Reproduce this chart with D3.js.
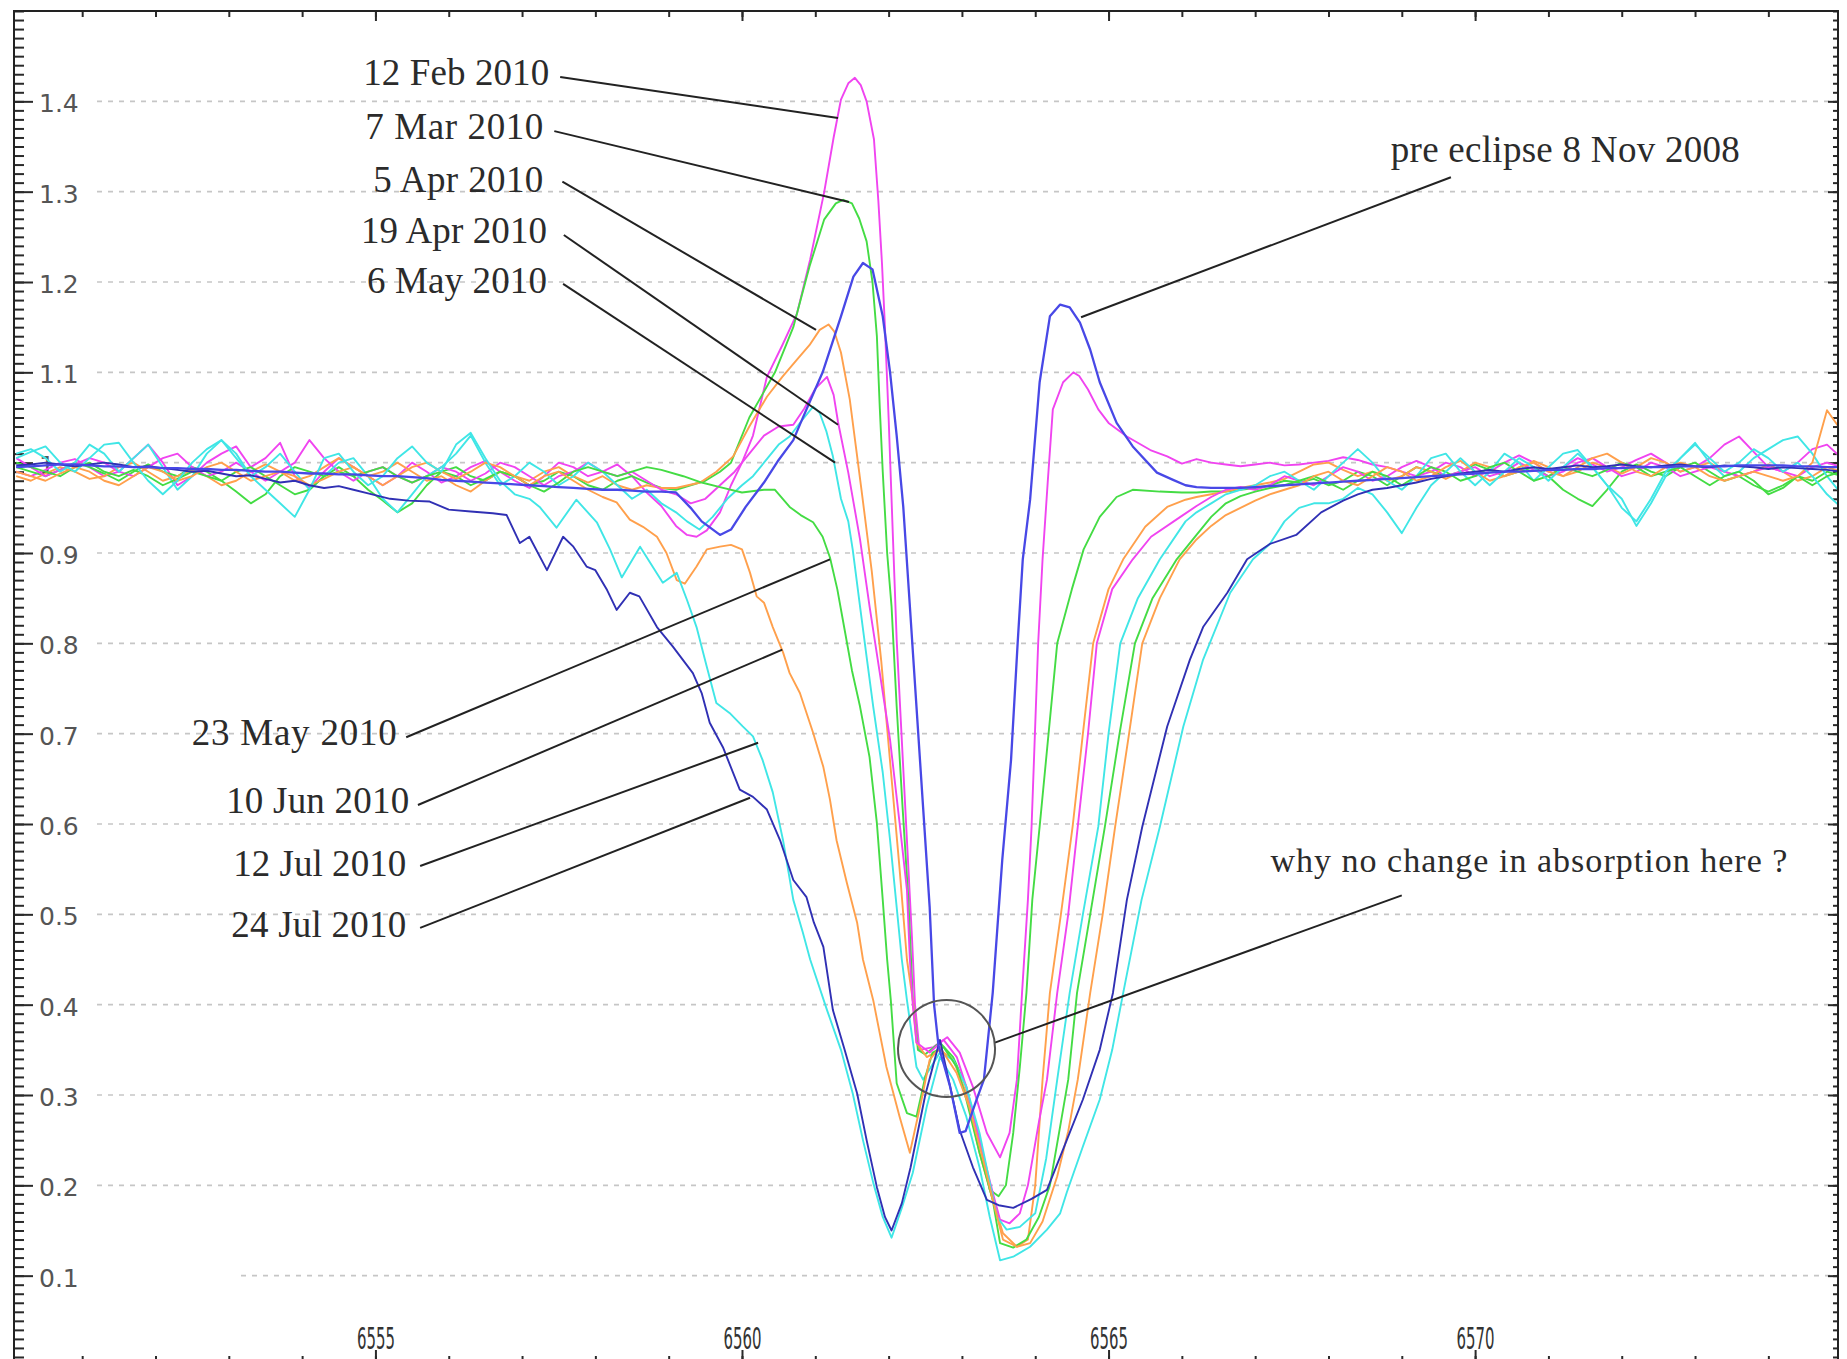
<!DOCTYPE html>
<meta charset="utf-8">
<style>

body { margin: 0; background: #fff; }
svg { display: block; background: #fff; }

.frame { fill: none; stroke: #222; stroke-width: 2; }
.grid { stroke: #c6c6c6; stroke-width: 1.6; stroke-dasharray: 5,6; }
.axis path { display: none; }
.axis line { stroke: #2a2a2a; stroke-width: 2; }
.spec { fill: none; stroke-linejoin: round; }
.note { font-family: "Liberation Serif", "Times New Roman", serif; font-size: 37px; fill: #2b2b2b; }
.note--small { font-size: 34px; }
.leader { stroke: #222; stroke-width: 2; }
.ring { fill: none; stroke: #555; stroke-width: 2; }

</style>
<svg width="1847" height="1359"></svg>
<script src="https://d3js.org/d3.v7.min.js"></script>
<script>

// ---- data -------------------------------------------------------------

// shared wavelength grids for the continuum on both sides of H-alpha
var gridL = [6550.1, 6550.3, 6550.5, 6550.7, 6550.9, 6551.1, 6551.3, 6551.5, 6551.7, 6551.9,
             6552.1, 6552.3, 6552.5, 6552.7, 6552.9, 6553.1, 6553.3, 6553.5, 6553.7, 6553.9,
             6554.1, 6554.3, 6554.5, 6554.7, 6554.9, 6555.1, 6555.3, 6555.5, 6555.7, 6555.9,
             6556.1, 6556.3, 6556.5, 6556.7, 6556.9, 6557.1, 6557.3, 6557.5, 6557.7, 6557.9,
             6558.1, 6558.3, 6558.5, 6558.7, 6558.9];
var gridR = [6566.2, 6566.4, 6566.6, 6566.8, 6567.0, 6567.2, 6567.4, 6567.6, 6567.8, 6568.0,
             6568.2, 6568.4, 6568.6, 6568.8, 6569.0, 6569.2, 6569.4, 6569.6, 6569.8, 6570.0,
             6570.2, 6570.4, 6570.6, 6570.8, 6571.0, 6571.2, 6571.4, 6571.6, 6571.8, 6572.0,
             6572.2, 6572.4, 6572.6, 6572.8, 6573.0, 6573.2, 6573.4, 6573.6, 6573.8, 6574.0,
             6574.2, 6574.4, 6574.6, 6574.8, 6575.0];

// pre eclipse 8 Nov 2008
var preL = [0.995,0.996,0.997,0.998,0.998,0.997,0.996,0.996,0.995,0.995,
            0.994,0.994,0.993,0.993,0.992,0.992,0.991,0.990,0.990,0.989,
            0.988,0.988,0.987,0.987,0.986,0.985,0.985,0.984,0.983,0.981,
            0.980,0.979,0.978,0.977,0.976,0.975,0.974,0.973,0.972,0.971,
            0.970,0.970,0.969,0.968,0.968];
var preCore = [[6559.1,0.967],[6559.3,0.95],[6559.45,0.935],[6559.7,0.92],[6559.85,0.926],[6560.05,0.951],
               [6560.3,0.978],[6560.5,1.003],[6560.7,1.025],[6560.8,1.044],[6561.1,1.10],[6561.35,1.162],
               [6561.52,1.206],[6561.65,1.221],[6561.78,1.214],[6561.92,1.162],[6562.02,1.10],[6562.11,1.03],
               [6562.2,0.951],[6562.29,0.841],[6562.38,0.73],[6562.47,0.619],[6562.56,0.508],[6562.62,0.40],
               [6562.68,0.355],[6562.84,0.309],[6562.97,0.258],[6563.05,0.26],[6563.2,0.295],[6563.3,0.317],
               [6563.42,0.413],[6563.55,0.56],[6563.67,0.671],[6563.76,0.80],[6563.83,0.893],[6563.93,0.959],
               [6564.06,1.089],[6564.2,1.162],[6564.34,1.175],[6564.47,1.172],[6564.61,1.155],[6564.75,1.125],
               [6564.88,1.089],[6565.11,1.044],[6565.33,1.018],[6565.66,0.989],[6565.88,0.981],[6566.05,0.975]];
var preR = [0.973,0.972,0.972,0.972,0.973,0.974,0.975,0.976,0.977,0.978,
            0.979,0.980,0.981,0.982,0.983,0.984,0.985,0.986,0.987,0.988,
            0.989,0.990,0.990,0.991,0.992,0.992,0.993,0.993,0.994,0.994,
            0.995,0.995,0.995,0.996,0.996,0.996,0.996,0.997,0.997,0.997,
            0.997,0.996,0.996,0.995,0.995];

// 12 Feb 2010
var feb12L = [0.99,0.985,0.992,1.0,1.004,0.995,0.985,0.99,1.005,1.02,
              1.0,0.975,0.985,1.0,1.01,1.018,0.995,1.005,1.022,0.985,
              0.972,0.99,1.005,0.995,0.985,0.975,0.985,1.0,0.99,0.978,
              0.985,0.995,1.002,0.99,0.98,0.972,0.985,1.0,0.995,0.985,
              0.99,0.998,0.985,0.967,0.952];
var feb12Core = [[6559.1,0.93],[6559.25,0.92],[6559.38,0.918],[6559.52,0.925],[6559.7,0.945],[6559.85,0.975],
                 [6560.0,1.0],[6560.15,1.03],[6560.34,1.095],[6560.55,1.13],[6560.75,1.165],[6560.93,1.225],
                 [6561.12,1.299],[6561.25,1.36],[6561.35,1.402],[6561.45,1.42],[6561.54,1.426],[6561.62,1.418],
                 [6561.7,1.40],[6561.8,1.358],[6561.86,1.29],[6561.91,1.22],[6561.95,1.15],[6562.0,1.05],
                 [6562.06,0.915],[6562.11,0.804],[6562.18,0.693],[6562.25,0.582],[6562.32,0.472],[6562.36,0.40],
                 [6562.42,0.35],[6562.61,0.353],[6562.8,0.364],[6562.97,0.347],[6563.15,0.309],[6563.34,0.258],
                 [6563.52,0.231],[6563.65,0.258],[6563.75,0.317],[6563.82,0.413],[6563.9,0.516],[6563.95,0.597],
                 [6564.04,0.80],[6564.1,0.893],[6564.17,0.978],[6564.24,1.059],[6564.38,1.089],[6564.52,1.10],
                 [6564.6,1.096],[6564.72,1.081],[6564.86,1.059],[6565.0,1.044],[6565.25,1.029],[6565.57,1.014],
                 [6565.8,1.007],[6566.0,0.999]];
var feb12R = [1.004,1.0,0.998,0.996,0.998,1.0,0.997,0.998,1.0,1.002,
              1.006,1.003,0.998,0.995,0.99,0.985,0.99,1.0,0.995,0.985,
              0.99,1.0,1.008,1.0,0.99,0.995,1.005,0.998,0.99,0.995,
              1.003,1.01,1.0,0.99,0.995,1.005,1.02,1.029,1.012,0.995,
              0.99,1.0,1.015,1.02,1.005];

// 7 Mar 2010
var mar7L = [0.995,0.99,0.985,0.992,1.0,0.995,0.988,0.98,0.99,0.998,
             0.99,0.985,0.995,0.99,0.98,0.968,0.955,0.965,0.985,0.995,
             0.99,0.985,0.995,0.985,0.97,0.958,0.945,0.955,0.975,0.99,
             0.995,0.985,0.98,0.99,0.985,0.975,0.98,0.99,0.985,0.975,
             0.97,0.98,0.985,0.978,0.972];
var mar7Core = [[6559.1,0.97],[6559.3,0.975],[6559.5,0.98],[6559.7,0.99],[6559.85,1.0],[6560.1,1.05],
                [6560.45,1.10],[6560.7,1.15],[6560.92,1.217],[6561.12,1.269],[6561.28,1.287],[6561.38,1.291],
                [6561.5,1.287],[6561.6,1.27],[6561.7,1.245],[6561.78,1.2],[6561.84,1.14],[6561.88,1.06],
                [6561.92,0.99],[6561.98,0.9],[6562.04,0.841],[6562.11,0.73],[6562.19,0.619],[6562.27,0.516],
                [6562.33,0.405],[6562.4,0.35],[6562.5,0.345],[6562.7,0.358],[6562.88,0.342],[6563.06,0.309],
                [6563.24,0.25],[6563.38,0.195],[6563.5,0.188],[6563.6,0.2],[6563.7,0.258],[6563.79,0.331],
                [6563.88,0.413],[6563.96,0.516],[6564.06,0.597],[6564.3,0.80],[6564.5,0.86],[6564.66,0.904],
                [6564.88,0.94],[6565.11,0.962],[6565.33,0.97],[6565.7,0.968],[6566.0,0.967]];
var mar7R = [0.967,0.968,0.968,0.97,0.972,0.975,0.98,0.978,0.982,0.975,
             0.98,0.99,0.985,0.975,0.985,0.995,0.99,0.985,0.99,0.998,
             0.992,0.985,0.99,0.995,0.985,0.97,0.96,0.952,0.97,0.99,
             0.998,0.99,0.985,0.995,1.0,0.99,0.98,0.985,0.975,0.968,
             0.975,0.985,0.98,0.99,0.985];

// 5 Apr 2010
var apr5L = [0.985,0.98,0.988,0.995,0.99,0.982,0.985,0.995,1.0,0.99,
             0.98,0.985,0.992,0.985,0.975,0.98,0.99,0.998,0.99,0.98,
             0.985,0.995,1.005,0.995,0.985,0.99,1.0,0.99,0.98,0.985,
             0.975,0.968,0.98,0.99,0.985,0.98,0.99,0.995,0.985,0.978,
             0.985,0.975,0.97,0.975,0.972];
var apr5Core = [[6559.1,0.972],[6559.43,0.978],[6559.65,0.99],[6559.88,1.007],[6560.1,1.04],[6560.34,1.073],
                [6560.55,1.095],[6560.75,1.114],[6560.92,1.13],[6561.06,1.147],[6561.18,1.153],[6561.26,1.145],
                [6561.35,1.122],[6561.47,1.07],[6561.55,1.02],[6561.63,0.97],[6561.77,0.88],[6561.9,0.78],
                [6562.03,0.66],[6562.15,0.55],[6562.25,0.45],[6562.33,0.405],[6562.38,0.358],[6562.52,0.342],
                [6562.7,0.35],[6562.88,0.339],[6563.06,0.302],[6563.24,0.236],[6563.42,0.184],[6563.56,0.147],
                [6563.75,0.132],[6563.9,0.14],[6564.0,0.2],[6564.1,0.317],[6564.2,0.413],[6564.35,0.5],
                [6564.51,0.597],[6564.65,0.7],[6564.79,0.80],[6565.0,0.86],[6565.2,0.893],[6565.5,0.929],
                [6565.8,0.951],[6566.05,0.959]];
var apr5R = [0.962,0.965,0.968,0.972,0.975,0.978,0.982,0.99,0.998,1.0,
             0.992,0.985,0.99,0.98,0.985,0.995,0.99,0.982,0.99,1.0,
             0.995,0.985,0.99,1.002,0.995,0.985,0.99,1.0,0.995,0.988,
             0.995,1.005,1.0,0.99,0.995,1.0,0.99,0.985,0.99,0.998,
             0.99,0.98,0.985,0.995,0.99];

// 19 Apr 2010
var apr19L = [1.005,0.995,0.985,0.992,0.998,1.005,1.0,0.99,0.985,0.995,
              1.005,1.01,0.995,0.985,0.99,1.0,0.99,0.98,0.99,1.0,
              1.025,1.005,0.99,0.98,0.99,0.995,0.985,0.978,0.985,0.995,
              0.99,0.98,0.988,1.0,0.995,0.985,0.975,0.985,0.99,1.0,
              0.99,0.985,0.99,0.98,0.97];
var apr19Core = [[6559.1,0.965],[6559.3,0.955],[6559.5,0.96],[6559.7,0.975],[6559.9,0.99],[6560.1,1.01],
                 [6560.3,1.03],[6560.5,1.04],[6560.7,1.042],[6560.85,1.06],[6561.0,1.082],[6561.16,1.095],
                 [6561.25,1.075],[6561.31,1.045],[6561.45,0.989],[6561.61,0.915],[6561.74,0.841],[6561.88,0.767],
                 [6562.02,0.693],[6562.15,0.601],[6562.25,0.527],[6562.29,0.45],[6562.33,0.40],[6562.38,0.358],
                 [6562.56,0.347],[6562.75,0.361],[6562.93,0.342],[6563.06,0.309],[6563.24,0.25],[6563.42,0.192],
                 [6563.52,0.162],[6563.65,0.158],[6563.79,0.169],[6563.9,0.2],[6564.05,0.27],[6564.16,0.317],
                 [6564.3,0.413],[6564.45,0.5],[6564.58,0.597],[6564.72,0.7],[6564.84,0.80],[6565.05,0.86],
                 [6565.33,0.893],[6565.58,0.918],[6565.98,0.94]];
var apr19R = [0.952,0.962,0.97,0.973,0.97,0.975,0.985,0.98,0.975,0.985,
              0.995,0.99,0.98,0.985,0.995,1.002,0.995,0.985,0.99,0.995,
              0.985,0.99,1.0,0.992,0.985,0.99,1.0,1.005,0.995,0.985,
              0.99,1.0,0.995,0.985,0.99,0.995,0.99,0.985,0.99,0.995,
              0.99,0.985,0.995,1.0,0.995];

// 6 May 2010
var may6L = [1.01,1.015,1.005,0.99,1.0,1.02,1.01,0.99,1.005,1.02,
             0.995,0.97,0.985,1.01,1.025,1.005,0.985,0.995,1.01,0.99,
             0.97,0.985,1.0,1.005,0.985,0.96,0.945,0.965,0.985,0.995,
             1.01,1.03,1.0,0.975,0.985,1.0,0.99,0.975,0.985,1.0,
             0.99,0.975,0.96,0.97,0.955];
var may6Core = [[6559.1,0.945],[6559.25,0.935],[6559.42,0.926],[6559.6,0.94],[6559.8,0.96],[6560.0,0.975],
                [6560.15,0.985],[6560.35,1.005],[6560.5,1.02],[6560.65,1.029],[6560.8,1.045],[6560.97,1.062],
                [6561.06,1.055],[6561.15,1.035],[6561.24,1.007],[6561.35,0.96],[6561.45,0.935],[6561.51,0.904],
                [6561.61,0.841],[6561.7,0.785],[6561.79,0.73],[6561.92,0.657],[6562.02,0.582],[6562.11,0.508],
                [6562.18,0.45],[6562.25,0.405],[6562.38,0.331],[6562.47,0.317],[6562.7,0.347],[6562.88,0.339],
                [6563.06,0.309],[6563.24,0.258],[6563.38,0.203],[6563.48,0.165],[6563.61,0.151],[6563.79,0.154],
                [6564.0,0.169],[6564.15,0.23],[6564.3,0.317],[6564.47,0.413],[6564.65,0.5],[6564.86,0.597],
                [6565.0,0.7],[6565.16,0.80],[6565.4,0.85],[6565.7,0.893],[6566.05,0.935]];
var may6R = [0.945,0.955,0.965,0.97,0.975,0.985,0.99,0.98,0.97,0.985,
             1.0,1.015,1.0,0.98,0.97,0.985,1.005,1.01,0.99,0.975,
             0.99,1.01,1.0,0.98,0.995,1.01,1.014,0.995,0.975,0.96,
             0.93,0.955,0.985,1.005,1.022,1.0,0.985,0.99,1.005,1.015,
             1.025,1.029,1.01,0.985,0.965];

// 23 May 2010
var may23L = [1.0,0.995,0.99,0.985,0.995,1.0,0.99,0.985,0.992,0.985,
              0.975,0.982,0.99,0.985,0.98,0.99,0.995,0.985,0.975,0.965,
              0.97,0.985,0.99,0.985,0.99,0.995,0.985,0.978,0.985,0.99,
              0.985,0.975,0.982,0.99,0.985,0.975,0.968,0.978,0.99,0.995,
              0.99,0.985,0.99,0.995,0.992];
var may23Core = [[6559.2,0.985],[6559.45,0.978],[6559.7,0.973],[6560.0,0.967],[6560.3,0.97],[6560.45,0.97],
                 [6560.65,0.951],[6560.8,0.942],[6560.97,0.934],[6561.1,0.918],[6561.2,0.895],[6561.3,0.86],
                 [6561.4,0.815],[6561.5,0.77],[6561.61,0.73],[6561.74,0.674],[6561.84,0.601],[6561.92,0.516],
                 [6561.98,0.45],[6562.03,0.405],[6562.11,0.313],[6562.25,0.28],[6562.38,0.276],[6562.5,0.32],
                 [6562.6,0.347],[6562.75,0.353],[6562.93,0.331],[6563.06,0.295],[6563.24,0.236],[6563.42,0.184],
                 [6563.52,0.136],[6563.7,0.131],[6563.88,0.14],[6564.05,0.165],[6564.2,0.2],[6564.35,0.27],
                 [6564.45,0.317],[6564.57,0.413],[6564.75,0.5],[6564.95,0.597],[6565.15,0.7],[6565.36,0.80],
                 [6565.6,0.85],[6565.93,0.893]];
var may23R = [0.92,0.94,0.955,0.963,0.968,0.972,0.975,0.98,0.985,0.978,
              0.97,0.98,0.99,0.985,0.975,0.985,0.995,0.99,0.98,0.985,
              0.995,1.0,0.99,0.98,0.985,0.995,0.99,0.985,0.992,1.0,
              0.995,0.985,0.99,0.995,0.985,0.975,0.985,0.99,0.98,0.965,
              0.972,0.985,0.975,0.985,0.99];

// 10 Jun 2010
var jun10L = [0.99,0.985,0.98,0.988,0.995,0.99,0.98,0.975,0.985,0.995,
              0.99,0.98,0.985,0.995,1.0,0.99,0.98,0.985,0.99,0.985,
              0.975,0.982,0.99,0.995,0.985,0.975,0.985,0.995,1.0,0.99,
              0.982,0.99,1.0,0.995,0.985,0.975,0.985,0.99,0.98,0.97];
var jun10Core = [[6558.1,0.962],[6558.29,0.956],[6558.47,0.937],[6558.65,0.929],[6558.84,0.918],[6558.97,0.9],
                 [6559.11,0.87],[6559.22,0.866],[6559.38,0.885],[6559.52,0.904],[6559.7,0.907],[6559.85,0.909],
                 [6560.0,0.904],[6560.11,0.878],[6560.2,0.852],[6560.3,0.845],[6560.42,0.818],[6560.56,0.79],
                 [6560.65,0.767],[6560.79,0.745],[6560.97,0.701],[6561.11,0.663],[6561.2,0.627],[6561.29,0.582],
                 [6561.43,0.535],[6561.57,0.491],[6561.65,0.45],[6561.79,0.405],[6561.97,0.331],[6562.15,0.276],
                 [6562.29,0.236],[6562.45,0.295],[6562.56,0.339],[6562.7,0.353],[6562.93,0.324],[6563.1,0.287],
                 [6563.29,0.228],[6563.42,0.184],[6563.56,0.14],[6563.75,0.132],[6563.93,0.136],[6564.1,0.16],
                 [6564.3,0.21],[6564.45,0.26],[6564.58,0.317],[6564.75,0.413],[6564.92,0.5],[6565.09,0.597],
                 [6565.28,0.7],[6565.46,0.80],[6565.7,0.85],[6565.97,0.893]];
var jun10R = [0.915,0.93,0.942,0.95,0.958,0.965,0.97,0.975,0.985,0.99,
              0.98,0.975,0.985,0.995,0.99,0.98,0.985,0.995,1.002,0.99,
              0.98,0.985,0.995,1.0,0.99,0.985,0.995,1.005,1.01,1.0,
              0.99,0.985,0.995,1.0,0.995,0.985,0.98,0.985,0.99,0.985,
              0.98,0.985,1.0,1.058,1.035];

// 12 Jul 2010
var jul12L = [1.005,1.012,1.018,1.0,0.99,1.005,1.02,1.022,1.0,0.98,
              0.965,0.98,1.0,1.015,1.025,1.01,0.985,0.97,0.955,0.94,
              0.97,1.005,1.01,0.99,0.975,0.985,1.005,1.018,1.0,0.99,
              1.02,1.033,1.005,0.98,0.965];
var jul12Core = [[6557.1,0.96],[6557.24,0.951],[6557.47,0.928],[6557.74,0.959],[6558.02,0.934],[6558.2,0.904],
                 [6558.36,0.873],[6558.61,0.907],[6558.92,0.867],[6559.11,0.878],[6559.25,0.848],[6559.38,0.818],
                 [6559.52,0.774],[6559.65,0.734],[6559.83,0.723],[6560.01,0.708],[6560.15,0.697],[6560.28,0.671],
                 [6560.42,0.635],[6560.56,0.582],[6560.7,0.516],[6560.83,0.48],[6560.93,0.45],[6561.16,0.394],
                 [6561.35,0.35],[6561.51,0.302],[6561.65,0.25],[6561.79,0.203],[6561.92,0.165],[6562.04,0.142],
                 [6562.18,0.175],[6562.33,0.214],[6562.52,0.287],[6562.7,0.342],[6562.88,0.317],[6563.06,0.276],
                 [6563.24,0.22],[6563.38,0.165],[6563.52,0.117],[6563.7,0.121],[6563.93,0.132],[6564.16,0.151],
                 [6564.34,0.169],[6564.43,0.192],[6564.65,0.243],[6564.88,0.295],[6565.05,0.35],[6565.2,0.413],
                 [6565.45,0.516],[6565.7,0.597],[6566.02,0.708],[6566.29,0.782],[6566.66,0.856],[6566.97,0.893],
                 [6567.2,0.91],[6567.4,0.935],[6567.6,0.95],[6567.8,0.955]];
var jul12R = [0.955,0.96,0.972,0.965,0.945,0.922,0.95,0.975,0.99,1.005,
              0.99,0.975,0.99,1.005,0.995,0.98,0.995,1.01,0.995,0.975,
              0.95,0.935,0.96,0.99,1.005,1.02,1.005,0.99,1.0,1.015,
              1.005,0.99,1.0,0.985,0.965,0.95];

// 24 Jul 2010
var jul24L = [0.997,0.998,1.0,0.998,0.996,0.998,1.0,0.998,0.995,0.996,
              0.994,0.992,0.99,0.991,0.988,0.985,0.986,0.982,0.978,0.98,
              0.975,0.972,0.974];
var jul24Core = [[6554.7,0.97],[6554.9,0.966],[6555.2,0.96],[6555.45,0.958],[6555.74,0.957],[6556.0,0.948],
                 [6556.3,0.946],[6556.6,0.944],[6556.79,0.942],[6556.97,0.911],[6557.1,0.918],[6557.34,0.881],
                 [6557.56,0.918],[6557.7,0.907],[6557.88,0.885],[6558.0,0.881],[6558.16,0.859],[6558.29,0.837],
                 [6558.47,0.856],[6558.6,0.852],[6558.84,0.818],[6559.06,0.796],[6559.33,0.767],[6559.45,0.745],
                 [6559.56,0.712],[6559.74,0.685],[6559.97,0.638],[6560.15,0.63],[6560.34,0.616],[6560.52,0.582],
                 [6560.7,0.538],[6560.88,0.519],[6560.98,0.491],[6561.11,0.464],[6561.24,0.394],[6561.4,0.35],
                 [6561.57,0.302],[6561.7,0.25],[6561.84,0.198],[6561.95,0.165],[6562.04,0.15],[6562.18,0.18],
                 [6562.3,0.22],[6562.5,0.30],[6562.7,0.361],[6562.84,0.309],[6562.97,0.261],[6563.15,0.22],
                 [6563.34,0.184],[6563.5,0.178],[6563.7,0.175],[6563.95,0.185],[6564.16,0.195],[6564.43,0.25],
                 [6564.65,0.295],[6564.88,0.35],[6565.06,0.413],[6565.25,0.516],[6565.46,0.597],[6565.8,0.708],
                 [6566.11,0.782],[6566.29,0.818],[6566.62,0.856],[6566.89,0.893],[6567.2,0.91],[6567.56,0.92],
                 [6567.9,0.945],[6568.2,0.958]];
var jul24R = [0.965,0.97,0.972,0.975,0.978,0.982,0.985,0.988,0.99,0.992,
              0.99,0.993,0.995,0.993,0.995,0.997,0.995,0.996,0.998,0.996,
              0.995,0.997,0.998,0.996,0.995,0.997,0.996,0.995,0.993,0.995,
              0.994,0.993,0.992,0.99];

// axis ticks
var yTicks = [0.1, 0.2, 0.3, 0.4, 0.5, 0.6, 0.7, 0.8, 0.9, 1.0, 1.1, 1.2, 1.3, 1.4];
var xTickLabels = [6555, 6560, 6565, 6570];

// annotations: text end + baseline, leader from/to, in data units
var noteText = ["12 Feb 2010", "7 Mar 2010", "5 Apr 2010", "19 Apr 2010", "6 May 2010",
                "23 May 2010", "10 Jun 2010", "12 Jul 2010", "24 Jul 2010",
                "pre eclipse 8 Nov 2008", "why no change in absorption here ?"];
var noteAt = [[6557.37,1.418],[6557.29,1.358],[6557.29,1.300],[6557.34,1.243],[6557.34,1.188],
              [6555.29,0.6875],[6555.46,0.612],[6555.42,0.542],[6555.42,0.475],
              [6573.61,1.333],[6574.26,0.547]];
var leaderFrom = [[6557.52,1.427],[6557.44,1.367],[6557.55,1.311],[6557.57,1.252],[6557.56,1.198],
                  [6555.42,0.696],[6555.58,0.621],[6555.61,0.5535],[6555.61,0.485],
                  [6569.67,1.316],[6569.00,0.521]];
var leaderTo = [[6561.31,1.3815],[6561.46,1.2886],[6561.01,1.147],[6561.31,1.042],[6561.27,1.0],
                [6561.20,0.893],[6560.55,0.793],[6560.22,0.690],[6560.11,0.629],
                [6564.625,1.161],[6563.45,0.358]];
var ring = {lambda: 6562.79, value: 0.3515, radius: 0.662};

// ---- styling ------------------------------------------------------------

var series = [
  {name: "12 Feb 2010", color: "#f044f0", left: feb12L, core: feb12Core, right: feb12R},
  {name: "7 Mar 2010",  color: "#44dc44", left: mar7L,  core: mar7Core,  right: mar7R},
  {name: "5 Apr 2010",  color: "#ffa04c", left: apr5L,  core: apr5Core,  right: apr5R},
  {name: "19 Apr 2010", color: "#f044f0", left: apr19L, core: apr19Core, right: apr19R},
  {name: "6 May 2010",  color: "#40e6e6", left: may6L,  core: may6Core,  right: may6R},
  {name: "23 May 2010", color: "#44dc44", left: may23L, core: may23Core, right: may23R},
  {name: "10 Jun 2010", color: "#ffa04c", left: jun10L, core: jun10Core, right: jun10R},
  {name: "12 Jul 2010", color: "#40e6e6", left: jul12L, core: jul12Core, right: jul12R},
  {name: "24 Jul 2010", color: "#3030b4", left: jul24L, core: jul24Core, right: jul24R},
  {name: "pre eclipse 8 Nov 2008", color: "#4848e6", left: preL, core: preCore, right: preR}
];
var noteWidth = [186, 178, 170, 186, 180, 205, 183, 173, 175, 349, 517];

// ---- drawing --------------------------------------------------------------

var svg = d3.select("svg"),
    frame = {left: 14, right: 1838, top: 11, bottom: 1366};

var x = d3.scaleLinear().domain([6550.07, 6574.95]).range([frame.left, frame.right]),
    y = d3.scaleLinear().domain([0, 1.5]).range([frame.bottom, frame.top]);

svg.append("defs").append("clipPath").attr("id", "plot")
  .append("rect")
    .attr("x", frame.left).attr("y", frame.top)
    .attr("width", frame.right - frame.left)
    .attr("height", frame.bottom - frame.top);

// dashed grid
svg.append("g").selectAll("line")
  .data(yTicks)
  .enter().append("line")
    .attr("class", "grid")
    .attr("x1", function(d) { return d === 0.1 ? 241 : 97; })
    .attr("x2", frame.right)
    .attr("y1", function(d) { return y(d); })
    .attr("y2", function(d) { return y(d); });

var fmt = function(d) { return d3.format(".1f")(d).replace(/\.0$/, ""); };

// left axis (ticks inward, labels inside)
svg.append("g")
    .attr("class", "axis axis--y")
    .attr("transform", "translate(" + frame.left + ",0)")
    .call(d3.axisRight(y).ticks(150).tickSize(10).tickFormat(""));
svg.append("g")
    .attr("class", "axis axis--y")
    .attr("transform", "translate(" + frame.left + ",0)")
    .call(d3.axisRight(y).tickValues(yTicks).tickSize(19).tickPadding(6).tickFormat(fmt))
    .attr("font-family", "'DejaVu Sans', Verdana, sans-serif")
    .attr("font-size", 25)
  .selectAll("text")
    .attr("fill", "#555")
    .attr("dy", "0.42em");

// right axis
svg.append("g")
    .attr("class", "axis")
    .attr("transform", "translate(" + frame.right + ",0)")
    .call(d3.axisLeft(y).ticks(150).tickSize(5).tickFormat(""));
svg.append("g")
    .attr("class", "axis")
    .attr("transform", "translate(" + frame.right + ",0)")
    .call(d3.axisLeft(y).tickValues(yTicks).tickSize(10).tickFormat(""));

// top axis
svg.append("g")
    .attr("class", "axis")
    .attr("transform", "translate(0," + frame.top + ")")
    .call(d3.axisBottom(x).ticks(25).tickSize(6).tickFormat(""));
svg.append("g")
    .attr("class", "axis")
    .attr("transform", "translate(0," + frame.top + ")")
    .call(d3.axisBottom(x).tickValues(xTickLabels).tickSize(10).tickFormat(""));

// bottom axis, labels sit inside the frame
svg.append("g")
    .attr("class", "axis")
    .attr("transform", "translate(0," + frame.bottom + ")")
    .call(d3.axisTop(x).ticks(25).tickSize(10).tickFormat(""));
svg.append("g")
    .attr("class", "axis axis--x")
    .attr("transform", "translate(0," + frame.bottom + ")")
    .call(d3.axisTop(x).tickValues(xTickLabels).tickSize(16).tickPadding(1).tickFormat(d3.format("d")))
    .attr("font-family", "'DejaVu Sans', sans-serif")
    .attr("font-size", 31)
  .selectAll("text")
    .attr("fill", "#333")
    .attr("textLength", 38)
    .attr("lengthAdjust", "spacingAndGlyphs");

// spectra
var line = d3.line()
    .x(function(d) { return x(d[0]); })
    .y(function(d) { return y(d[1]); });

function profile(s) {
  var pts = s.left.map(function(v, i) { return [gridL[i], v]; });
  pts = pts.concat(s.core);
  var off = gridR.length - s.right.length;
  return pts.concat(s.right.map(function(v, i) { return [gridR[off + i], v]; }));
}

svg.append("g")
    .attr("clip-path", "url(#plot)")
  .selectAll("path")
  .data(series)
  .enter().append("path")
    .attr("class", "spec")
    .attr("stroke", function(d) { return d.color; })
    .attr("stroke-width", function(d, i) { return i === series.length - 1 ? 2.3 : 1.9; })
    .attr("d", function(d) { return line(profile(d)); });

// frame
svg.append("rect")
    .attr("class", "frame")
    .attr("x", frame.left).attr("y", frame.top)
    .attr("width", frame.right - frame.left)
    .attr("height", frame.bottom - frame.top);

// annotations
var notes = svg.append("g");

notes.selectAll(".leader")
  .data(leaderFrom)
  .enter().append("line")
    .attr("class", "leader")
    .attr("x1", function(d) { return x(d[0]); })
    .attr("y1", function(d) { return y(d[1]); })
    .attr("x2", function(d, i) { return x(leaderTo[i][0]); })
    .attr("y2", function(d, i) { return y(leaderTo[i][1]); });

notes.append("ellipse")
    .attr("class", "ring")
    .attr("cx", x(ring.lambda))
    .attr("cy", y(ring.value))
    .attr("rx", x(ring.lambda + ring.radius) - x(ring.lambda))
    .attr("ry", x(ring.lambda + ring.radius) - x(ring.lambda));

notes.selectAll(".note")
  .data(noteText)
  .enter().append("text")
    .attr("class", function(d, i) { return i === noteText.length - 1 ? "note note--small" : "note"; })
    .attr("text-anchor", "end")
    .attr("x", function(d, i) { return x(noteAt[i][0]); })
    .attr("y", function(d, i) { return y(noteAt[i][1]); })
    .attr("textLength", function(d, i) { return noteWidth[i]; })
    .attr("lengthAdjust", "spacing")
    .text(function(d) { return d; });

</script>
